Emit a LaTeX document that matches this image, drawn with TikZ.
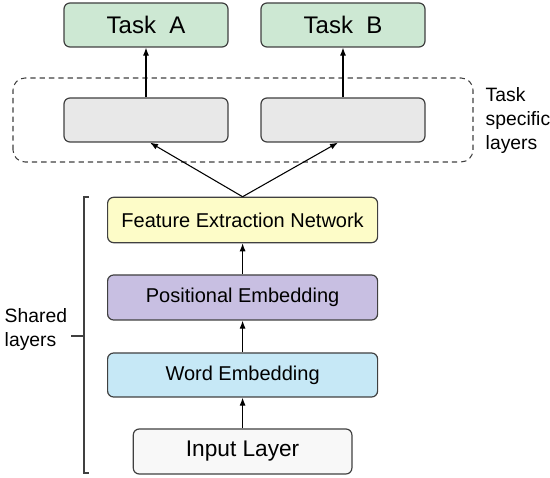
\documentclass[tikz,border=0pt]{standalone}
\usepackage{fontspec}
\setmainfont{Liberation Sans}
\usetikzlibrary{positioning,arrows.meta}
\definecolor{taskgreen}{HTML}{CDE8D3}
\definecolor{specgray}{HTML}{E8E8E8}
\definecolor{featyellow}{HTML}{FDFCC8}
\definecolor{posviolet}{HTML}{C8BFE2}
\definecolor{wordblue}{HTML}{C6E8F6}
\definecolor{inputwhite}{HTML}{F8F8F8}
\definecolor{edgegray}{HTML}{404040}
\begin{document}
\begin{tikzpicture}[
    x=0.75pt,
    y=0.75pt,
    layer/.style={draw=edgegray, line width=0.9pt, rounded corners=4.5pt,
      minimum width=123pt, minimum height=33pt, inner sep=0pt},
    shared/.style={layer, minimum width=202.5pt, minimum height=34pt, font=\fontsize{15}{17}\selectfont},
    flow/.style={-{Latex[length=6pt,width=4.5pt]}, line width=0.8pt}
]
\useasboundingbox (0,0) rectangle (550,478);

% task heads
\node[layer, fill=taskgreen, font=\fontsize{18}{20}\selectfont] (taskA) at (146,453) {Task\ \ A};
\node[layer, fill=taskgreen, font=\fontsize{18}{20}\selectfont] (taskB) at (343,453) {Task\ \ B};
\node[layer, fill=specgray] (specA) at (146,358) {};
\node[layer, fill=specgray] (specB) at (343,358) {};
\draw[dash pattern=on 4pt off 3pt, line width=0.8pt, edgegray, rounded corners=9pt] (13,316) rectangle (473,400);
\node[align=left, anchor=west, font=\fontsize{14.5}{18}\selectfont] (speclab) at (481,357) {Task\\specific\\layers};

% shared stack
\node[shared, fill=featyellow] (feat) at (242.6,258) {Feature Extraction Network};
\node[shared, fill=posviolet, minimum height=33.75pt] (pos) at (242.6,180.5) {Positional Embedding};
\node[shared, fill=wordblue, minimum height=33pt] (word) at (242.6,103) {Word Embedding};
\node[layer, fill=inputwhite, minimum width=164pt, minimum height=33.75pt,
  font=\fontsize{17}{19}\selectfont] (input) at (242.6,26.5) {Input Layer};

\draw[flow] (input) -- (word);
\draw[flow] (word) -- (pos);
\draw[flow] (pos) -- (feat);
\draw[flow] (feat.north) -- ([xshift=3pt]specA.south);
\draw[flow] (feat.north) -- ([xshift=-3.75pt]specB.south);
\draw[flow] (specA) -- (taskA);
\draw[flow] (specB) -- (taskB);

% bracket round the shared layers
\draw[line width=0.8pt, edgegray] (89,281) -- (84,281) -- (84,5) -- (89,5);
\draw[line width=0.8pt, edgegray] (84,142) -- (71,142) coordinate (brackettip);
\node[align=left, anchor=west, font=\fontsize{14.5}{18}\selectfont] (sharedlab)
  at (0,148) {Shared\\layers};
\end{tikzpicture}
\end{document}
